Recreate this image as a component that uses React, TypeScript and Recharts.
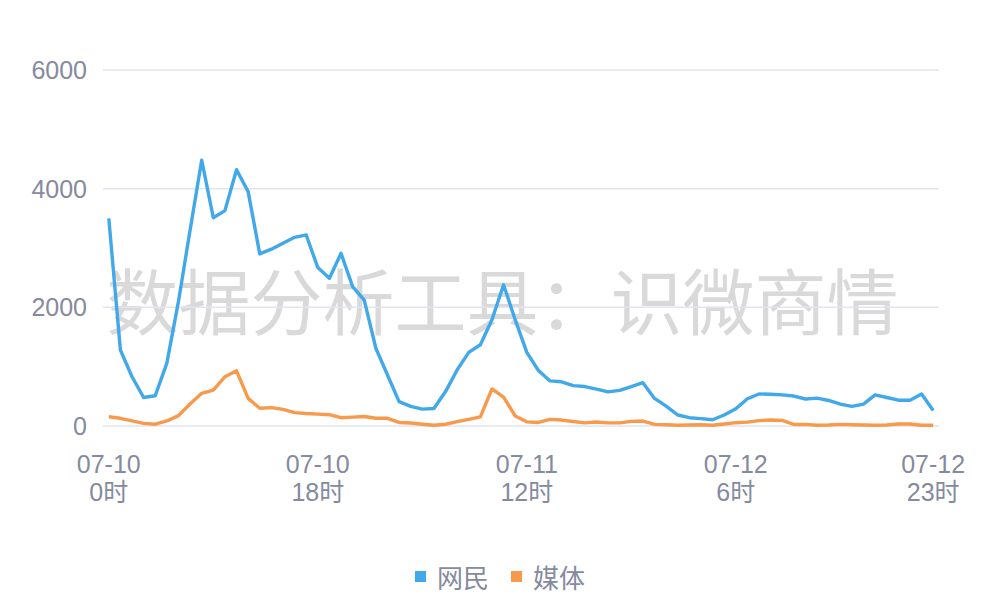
import { LineChart, Line, XAxis, YAxis, CartesianGrid, Legend } from 'recharts';

const days = ['07-10', '07-11', '07-12'];
const hours = Array.from({ length: 24 }, (_, h) => h);
const categories = days.flatMap((d) => hours.map((h) => `${d} ${h}时`));

const netizen = [
  3500, 1280, 830, 480, 510, 1060, 2100, 3300, 4480, 3510, 3630, 4320,
  3950, 2900, 2980, 3080, 3180, 3220, 2670, 2490, 2910, 2350, 2120, 1310,
  860, 410, 330, 285, 295, 580, 945, 1240, 1370, 1790, 2380, 1790,
  1240, 935, 760, 745, 680, 665, 620, 575, 600, 665, 730, 465,
  335, 185, 140, 125, 105, 185, 290, 460, 540, 535, 525, 505,
  455, 470, 430, 370, 330, 370, 525, 480, 435, 435, 540, 260,
];

const media = [
  155, 130, 85, 45, 30, 85, 175, 370, 550, 605, 830, 930,
  465, 300, 310, 280, 225, 210, 200, 190, 140, 150, 160, 130,
  130, 60, 50, 30, 12, 30, 75, 112, 155, 625, 485, 170,
  70, 60, 112, 100, 75, 52, 67, 52, 52, 78, 84, 28,
  22, 12, 17, 22, 12, 34, 56, 65, 90, 100, 95, 25,
  28, 12, 17, 28, 22, 17, 12, 17, 34, 34, 12, 12,
];

const seriesNames = ['网民', '媒体'];
const labeledTicks = ['07-10 0时', '07-10 18时', '07-11 12时', '07-12 6时', '07-12 23时'];
const yTicks = [0, 2000, 4000, 6000];

const data = categories.map((time, i) => ({ time, netizen: netizen[i], media: media[i] }));

const FONT = "'Liberation Sans', 'Noto Sans CJK SC', sans-serif";
const TEXT = '#858a9e';

function TimeTick(props: any) {
  const { x, y, payload } = props;
  if (!labeledTicks.includes(payload.value)) return null;
  const [day, hour] = String(payload.value).split(' ');
  return (
    <g fill={TEXT} fontSize={25} fontFamily={FONT} textAnchor="middle">
      <text x={x} y={y + 47}>{day}</text>
      <text x={x} y={y + 75}>{hour}</text>
    </g>
  );
}

function LegendContent(props: any) {
  const items = [...(props.payload || [])].sort(
    (a: any, b: any) => seriesNames.indexOf(a.value) - seriesNames.indexOf(b.value),
  );
  return (
    <div style={{ height: 40, display: 'flex', justifyContent: 'center', alignItems: 'center', gap: 22 }}>
      {items.map((it: any) => (
        <div key={it.value} style={{ display: 'flex', alignItems: 'center', gap: 11 }}>
          <span style={{ width: 11, height: 11, background: it.color, display: 'inline-block' }} />
          <span style={{ color: TEXT, fontSize: 26, fontFamily: FONT }}>{it.value}</span>
        </div>
      ))}
    </div>
  );
}

export default function App() {
  return (
    <div style={{ position: 'absolute', left: 0, top: 0, width: 1000, height: 600, background: '#fff' }}>
      <div
        style={{
          position: 'absolute',
          left: 0,
          width: 1005,
          top: 254,
          textAlign: 'center',
          fontSize: 72,
          lineHeight: '88px',
          color: '#d9d9d9',
          fontFamily: "'Noto Sans CJK SC', sans-serif",
          whiteSpace: 'nowrap',
        }}
      >
        数据分析工具：识微商情
      </div>
      <div style={{ position: 'absolute', left: 0, top: 0 }}>
        <LineChart width={1000} height={600} data={data} margin={{ top: 70, right: 61, left: 0, bottom: 4 }}>
          <CartesianGrid horizontal vertical={false} stroke="#e1e5ef" strokeWidth={1.5} />
          <XAxis
            dataKey="time"
            interval={0}
            axisLine={false}
            tickLine={false}
            tickSize={0}
            tickMargin={0}
            height={130}
            padding={{ left: 5.8, right: 5.8 }}
            tick={<TimeTick />}
          />
          <YAxis
            width={103}
            domain={[0, 6000]}
            ticks={yTicks}
            axisLine={false}
            tickLine={false}
            tickSize={0}
            tickMargin={16}
            tick={{ fill: TEXT, fontSize: 25, fontFamily: FONT }}
          />
          <Legend
            verticalAlign="bottom"
            content={<LegendContent />}
            wrapperStyle={{ left: 0, width: 1000 }}
          />
          <Line
            type="linear"
            dataKey="netizen"
            name={seriesNames[0]}
            stroke="#41a8ea"
            strokeWidth={3.4}
            strokeLinejoin="round"
            dot={false}
            activeDot={false}
            isAnimationActive={false}
          />
          <Line
            type="linear"
            dataKey="media"
            name={seriesNames[1]}
            stroke="#f8994b"
            strokeWidth={3.4}
            strokeLinejoin="round"
            dot={false}
            activeDot={false}
            isAnimationActive={false}
          />
        </LineChart>
      </div>
    </div>
  );
}
